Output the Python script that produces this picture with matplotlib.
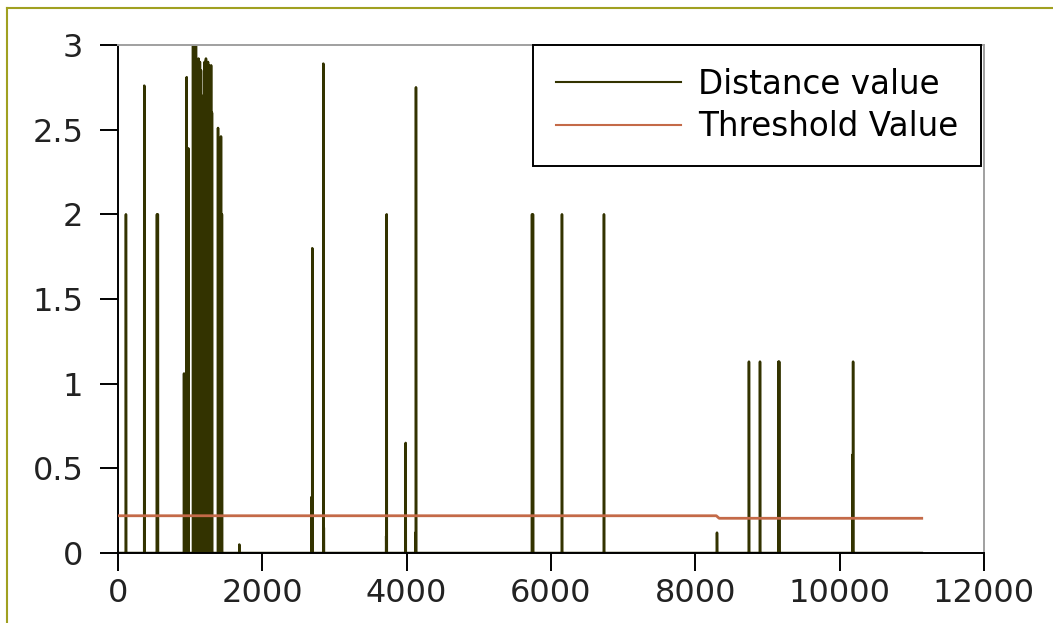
import numpy as np
import matplotlib
matplotlib.use("Agg")
import matplotlib.pyplot as plt
from matplotlib.lines import Line2D

# ---- data ----
n_samples = 11140
spike_idx = [110, 364, 540, 552, 915, 952, 974,
             1040, 1050, 1060, 1070, 1080, 1095, 1105, 1115, 1125, 1135, 1150,
             1165, 1180, 1200, 1219, 1235, 1247, 1260, 1275, 1290, 1302,
             1386, 1400, 1427, 1440, 1681,
             2680, 2692, 2845, 2852, 3716, 3723, 3986, 4122, 4129,
             5737, 5750, 6152, 6734, 8300,
             8743, 8896, 9152, 9162, 10178, 10186]
spike_val = [2.0, 2.76, 2.0, 2.0, 1.06, 2.81, 2.39,
             3.2, 2.76, 3.1, 2.95, 3.3, 2.8, 2.6, 2.92, 2.63, 2.9, 2.85,
             2.7, 2.5, 2.9, 2.92, 2.8, 2.9, 2.88, 2.86, 2.88, 2.6,
             2.51, 2.0, 2.46, 2.0, 0.05,
             0.33, 1.80, 2.89, 0.15, 0.1, 2.0, 0.65, 0.12, 2.75,
             2.0, 2.0, 2.0, 2.0, 0.12,
             1.13, 1.13, 1.13, 1.13, 0.58, 1.13]
thr_x = [0, 8290, 8330, 11137]
thr_y = [0.22, 0.22, 0.205, 0.205]
xticks = [0, 2000, 4000, 6000, 8000, 10000, 12000]
yticks = [0, 0.5, 1, 1.5, 2, 2.5, 3]
ytick_labels = ["0", "0.5", "1", "1.5", "2", "2.5", "3"]

dist = np.zeros(n_samples)
dist[np.array(spike_idx)] = spike_val
idx = np.arange(n_samples)

fig = plt.figure(figsize=(10.53, 6.23), dpi=100)
ax = fig.add_axes([118/1053, 1-553/623, (984-118)/1053, (553-45)/623])

ax.plot(idx, dist, color="#333300", lw=1.8, label="Distance value", zorder=2)
ax.plot(thr_x, thr_y, color="#C46A48", lw=2.0, label="Threshold Value", zorder=3)

ax.set_xlim(0, 12000)
ax.set_ylim(0, 3)
ax.set_xticks(xticks)
ax.set_xticklabels([str(t) for t in xticks])
ax.set_yticks(yticks)
ax.set_yticklabels(ytick_labels)

ax.tick_params(axis="both", direction="out", length=13, width=1.4,
               color="black", labelsize=23, labelcolor="#222222")
ax.tick_params(axis="x", pad=5)
ax.tick_params(axis="y", pad=12)
ax.tick_params(top=False, right=False)

for s in ["left", "bottom"]:
    ax.spines[s].set_color("black")
    ax.spines[s].set_linewidth(1.4)
for s in ["top", "right"]:
    ax.spines[s].set_color("#A0A0A0")
    ax.spines[s].set_linewidth(1.4)

leg = ax.legend(loc="upper right", bbox_to_anchor=(0.996, 1.0), fontsize=23.5,
                frameon=True, fancybox=False, shadow=False, framealpha=1,
                handlelength=3.85, handletextpad=0.5, labelspacing=0.3,
                borderpad=0.69, borderaxespad=0.0)
leg.get_frame().set_edgecolor("black")
leg.get_frame().set_linewidth(1.4)
for h in leg.get_lines():
    h.set_linewidth(1.5)

# figure border (olive)
fig.add_artist(Line2D([7/1053, 7/1053], [0, 1-8/623], transform=fig.transFigure,
                      color="#A0A020", lw=1.5))
fig.add_artist(Line2D([7/1053, 1], [1-8/623, 1-8/623], transform=fig.transFigure,
                      color="#A0A020", lw=1.5))

fig.savefig("out.png", dpi=100, facecolor="white")
